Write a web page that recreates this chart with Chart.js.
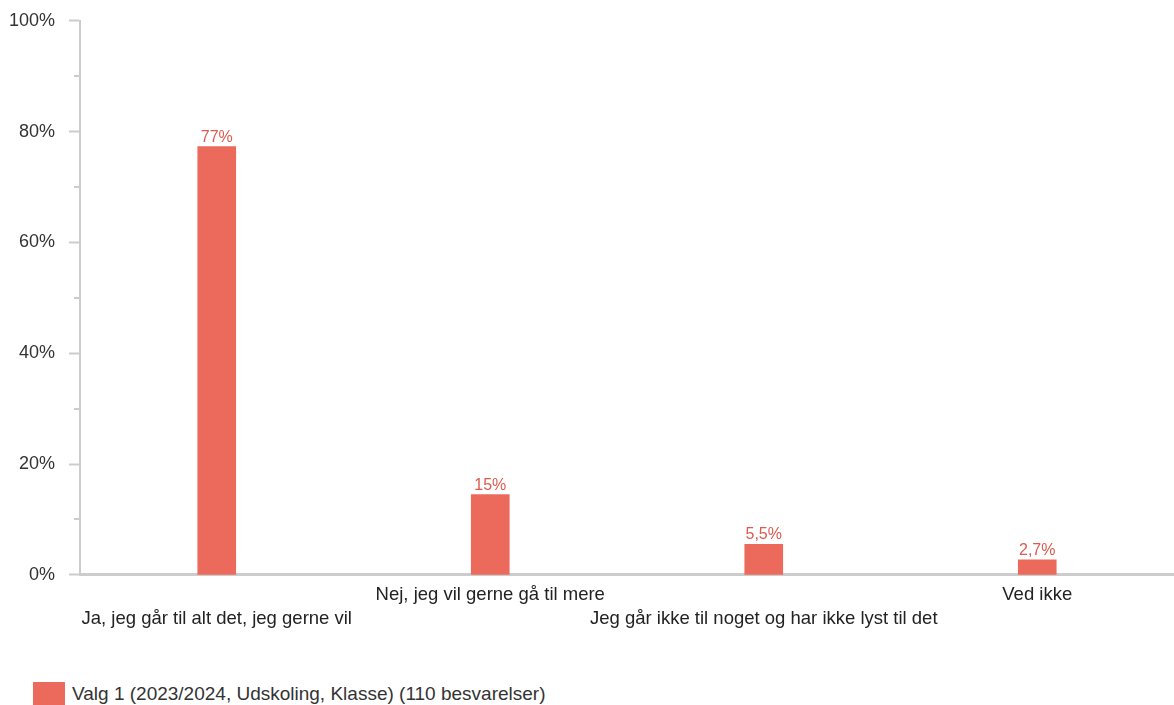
<!DOCTYPE html>
<html>
<head>
<meta charset="utf-8">
<script src="https://cdn.jsdelivr.net/npm/chart.js@4.4.1/dist/chart.umd.min.js"></script>
<style>
  html, body { margin: 0; padding: 0; background: #fff; }
  body { width: 1174px; height: 705px; position: relative; overflow: hidden;
         font-family: Arial, "Liberation Sans", sans-serif; }
  #wrap { position: absolute; left: 0; top: -4px; width: 1174px; height: 643px; }
  #legend { position: absolute; left: 33px; top: 682px; display: flex; align-items: center;
            font-size: 19px; color: #333; }
  #legend .box { width: 32px; height: 23px; background: #EB6A5C; margin-right: 7px; }
</style>
</head>
<body>
<div id="wrap"><canvas id="myChart"></canvas></div>
<div id="legend"><span class="box"></span><span id="legendText"></span></div>
<script>
const categorias = [
  'Ja, jeg går til alt det, jeg gerne vil',
  'Nej, jeg vil gerne gå til mere',
  'Jeg går ikke til noget og har ikke lyst til det',
  'Ved ikke'
];
const valores = [77.3, 14.5, 5.5, 2.7];
const serieNavn = 'Valg 1 (2023/2024, Udskoling, Klasse) (110 besvarelser)';
const yTicks = [0, 20, 40, 60, 80, 100];

const FONT = 'Arial, "Liberation Sans", sans-serif';
const BAR_COLOR = '#EB6A5C';
const LABEL_COLOR = '#DC5A4E';
const AXIS_COLOR = '#CCCCCC';

document.querySelector('#legendText').textContent = serieNavn;

function fmtValor(v) {
  return Number(v).toPrecision(2).replace('.', ',') + '%';
}

// etiquetas arriba de cada barra
const barLabels = {
  id: 'barLabels',
  afterDatasetsDraw(chart) {
    const ctx = chart.ctx;
    const meta = chart.getDatasetMeta(0);
    ctx.save();
    ctx.font = '16px ' + FONT;
    ctx.fillStyle = LABEL_COLOR;
    ctx.textAlign = 'center';
    ctx.textBaseline = 'alphabetic';
    meta.data.forEach((bar, i) => {
      ctx.fillText(fmtValor(valores[i]), bar.x, bar.y - 5);
    });
    ctx.restore();
  }
};

// ticks menores cada 10%
const minorTicks = {
  id: 'minorTicks',
  afterDraw(chart) {
    const y = chart.scales.y;
    const ctx = chart.ctx;
    ctx.save();
    ctx.strokeStyle = AXIS_COLOR;
    ctx.lineWidth = 2;
    for (let v = 10; v < 100; v += 20) {
      const py = Math.round(y.getPixelForValue(v));
      ctx.beginPath();
      ctx.moveTo(y.right - 6, py);
      ctx.lineTo(y.right, py);
      ctx.stroke();
    }
    ctx.restore();
  }
};

const ctx = document.querySelector('#myChart').getContext('2d');
const myChart = new Chart(ctx, {
  type: 'bar',
  data: {
    labels: categorias,
    datasets: [{
      label: serieNavn,
      data: valores,
      backgroundColor: BAR_COLOR,
      barThickness: 38
    }]
  },
  options: {
    responsive: true,
    maintainAspectRatio: false,
    animation: { duration: 0 },
    layout: { padding: { top: 5, right: 0, left: 0, bottom: 0 } },
    plugins: {
      legend: { display: false },
      tooltip: { enabled: false }
    },
    scales: {
      y: {
        min: 0,
        max: 100,
        afterBuildTicks(scale) {
          scale.ticks = yTicks.map(v => ({ value: v }));
        },
        afterFit(scale) {
          scale.width = 80;
        },
        ticks: {
          callback: v => v + '%',
          color: '#333',
          font: { family: FONT, size: 18 },
          padding: 14
        },
        grid: {
          drawOnChartArea: false,
          drawTicks: true,
          tickLength: 11,
          tickColor: AXIS_COLOR,
          tickWidth: 2
        },
        border: { display: true, color: AXIS_COLOR, width: 2 }
      },
      x: {
        ticks: {
          autoSkip: false,
          maxRotation: 0,
          minRotation: 0,
          color: '#222',
          font: { family: FONT, size: 18.5, lineHeight: 1.3 },
          padding: 8,
          callback: (v, i) => i % 2 === 0 ? ['', categorias[i]] : categorias[i]
        },
        grid: { display: false, drawTicks: false },
        border: { display: true, color: AXIS_COLOR, width: 3 }
      }
    }
  },
  plugins: [barLabels, minorTicks]
});
</script>
</body>
</html>
